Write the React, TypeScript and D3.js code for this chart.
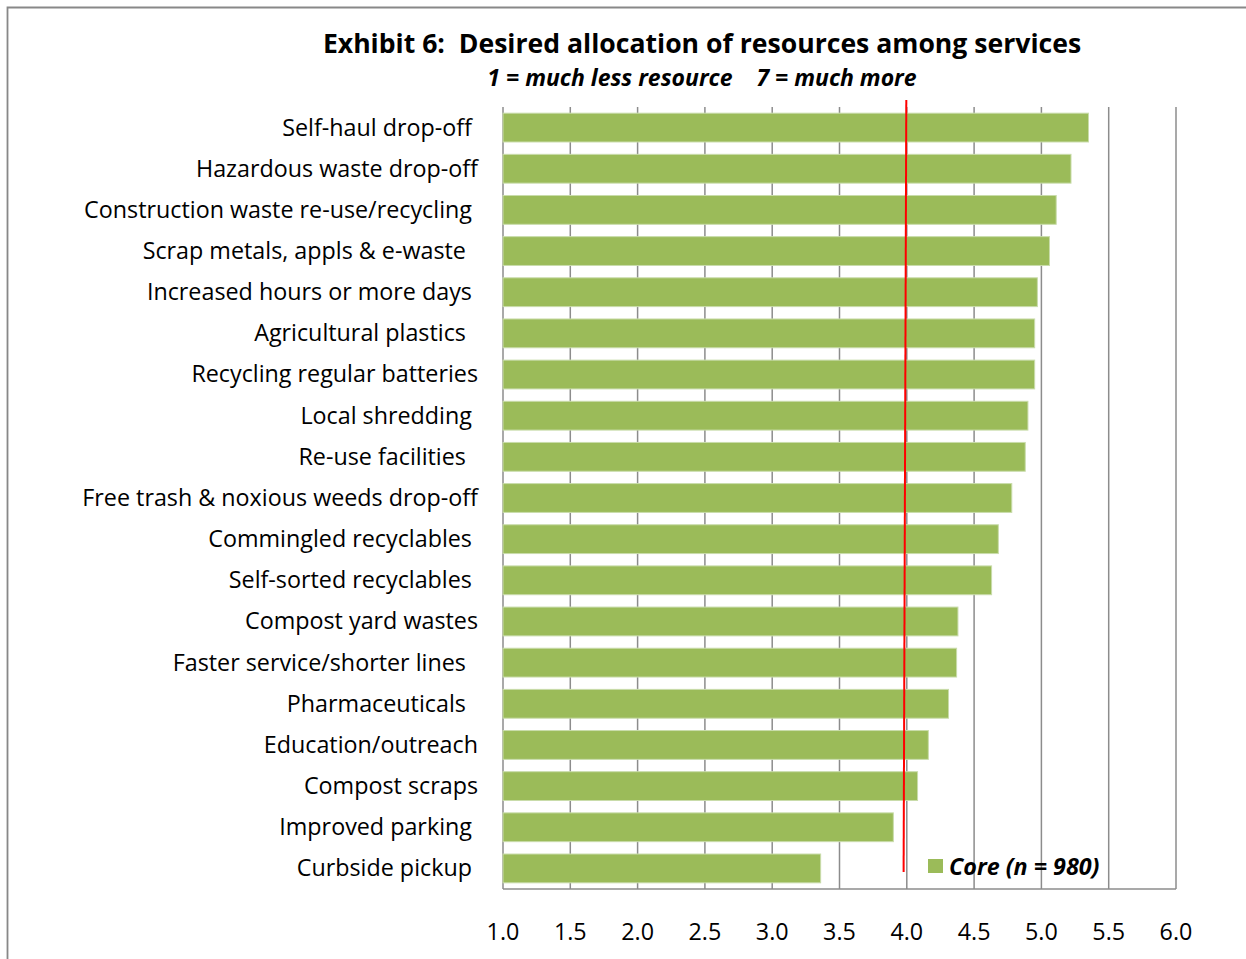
import React from "react";
import * as d3 from "d3";

const categories = [
  "Self-haul drop-off ",
  "Hazardous waste drop-off",
  "Construction waste re-use/recycling ",
  "Scrap metals, appls & e-waste  ",
  "Increased hours or more days ",
  "Agricultural plastics  ",
  "Recycling regular batteries",
  "Local shredding ",
  "Re-use facilities  ",
  "Free trash & noxious weeds drop-off",
  "Commingled recyclables ",
  "Self-sorted recyclables ",
  "Compost yard wastes",
  "Faster service/shorter lines  ",
  "Pharmaceuticals  ",
  "Education/outreach",
  "Compost scraps",
  "Improved parking ",
  "Curbside pickup ",
];
const coreValues = [
  5.35, 5.22, 5.11, 5.06, 4.97, 4.95, 4.95, 4.9, 4.88, 4.78, 4.68, 4.63, 4.38,
  4.37, 4.31, 4.16, 4.08, 3.9, 3.36,
];
const xTicks = [1.0, 1.5, 2.0, 2.5, 3.0, 3.5, 4.0, 4.5, 5.0, 5.5, 6.0];
const referenceTop = 4.0;
const referenceBottom = 3.98;
const titleText = "Exhibit 6:  Desired allocation of resources among services";
const subtitleText = "1 = much less resource    7 = much more";
const legendText = "Core (n = 980)";

const W = 1246;
const H = 959;
const FONT = "'Open Sans', Lato, sans-serif";

export default function App() {
  const left = 503;
  const right = 1176;
  const top = 107;
  const bottom = 889;
  const x = d3.scaleLinear().domain([1, 6]).range([left, right]);
  const y = d3
    .scaleBand<string>()
    .domain(categories)
    .range([top, bottom])
    .paddingInner(0.3)
    .paddingOuter(0.15);
  const green = "#9bbb59";
  const grid = "#8c8c8c";
  const pre = { whiteSpace: "pre" as const };

  return (
    <svg
      width={W}
      height={H}
      style={{ position: "absolute", left: 0, top: 0, background: "#fff" }}
      fontFamily={FONT}
    >
      <rect x={0} y={0} width={W} height={H} fill="#fff" />
      {/* outer frame */}
      <path d={`M7.5,${H} V7.5 H${W}`} fill="none" stroke="#888" strokeWidth={1.8} />

      <text x={702} y={53} textAnchor="middle" fontWeight="bold" fontSize={26.6} fill="#000" style={pre}>
        {titleText}
      </text>
      <text
        x={702}
        y={86}
        textAnchor="middle"
        fontWeight="bold"
        fontStyle="italic"
        fontSize={23}
        fill="#000"
        style={pre}
      >
        {subtitleText}
      </text>

      {/* gridlines */}
      {xTicks.map((t) => (
        <line key={t} x1={x(t)} x2={x(t)} y1={top} y2={bottom} stroke={grid} strokeWidth={1.5} />
      ))}
      <line x1={left} x2={right} y1={bottom} y2={bottom} stroke={grid} strokeWidth={1.5} />

      {/* bars */}
      {categories.map((c, i) => (
        <rect
          key={c}
          x={x(1)}
          y={y(c)!}
          width={x(coreValues[i]) - x(1)}
          height={y.bandwidth()}
          fill={green}
          stroke="#c9dcab"
          strokeWidth={1}
        />
      ))}

      {/* category labels */}
      {categories.map((c) => (
        <text
          key={"l" + c}
          x={478}
          y={y(c)! + y.bandwidth() / 2}
          dy="0.34em"
          textAnchor="end"
          fontSize={23.3}
          fill="#000"
          style={pre}
        >
          {c}
        </text>
      ))}

      {/* tick labels */}
      {xTicks.map((t) => (
        <text key={"t" + t} x={x(t)} y={940} textAnchor="middle" fontSize={23.3} fill="#000">
          {d3.format(".1f")(t)}
        </text>
      ))}

      {/* reference line */}
      <line
        x1={x(referenceTop) - 0.5}
        x2={x(referenceBottom) - 0.5}
        y1={100}
        y2={872}
        stroke="#ff0000"
        strokeWidth={2}
      />

      {/* legend */}
      <rect x={928} y={859} width={15} height={14} fill={green} />
      <text x={949} y={875} fontSize={23.3} fontWeight="bold" fontStyle="italic" fill="#000">
        {legendText}
      </text>
    </svg>
  );
}
